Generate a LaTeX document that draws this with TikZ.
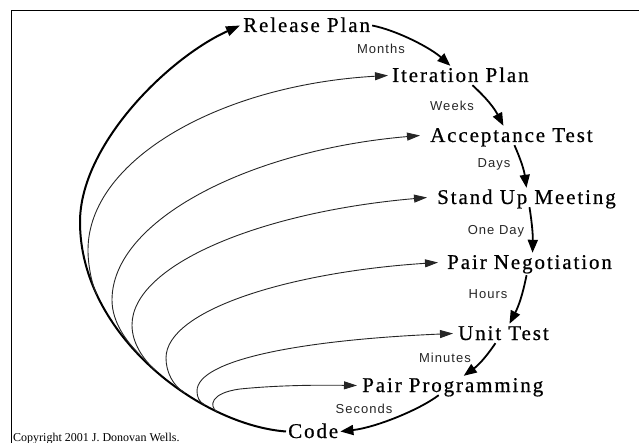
\documentclass[tikz,border=0pt]{standalone}
\usepackage{fontspec}
\setmainfont{Liberation Serif}
\newfontfamily\bigserif[LetterSpace=9,FakeBold=0.6]{Liberation Serif}
\newfontfamily\smallsans[LetterSpace=8]{Liberation Sans}
\usetikzlibrary{arrows.meta}
\tikzset{
  stage/.style={font=\bigserif\fontsize{21}{25}\selectfont, inner sep=2pt, text height=14pt, text depth=1pt, anchor=base west},
  span/.style={font=\smallsans\fontsize{13}{15}\selectfont, text=black!85, inner sep=0pt},
  thickarrow/.style={line width=1.8pt, -{Triangle[length=13pt,width=10pt]}},
  thinarrow/.style={line width=0.9pt, draw=black!85, -{Triangle[length=13pt,width=8pt]}},
  spiral/.style={line width=2pt, -{Triangle[length=14pt,width=10pt]}},
  frameline/.style={line width=1.2pt}
}
\begin{document}
\begin{tikzpicture}[x=1pt, y=-1pt]
\useasboundingbox (0,0) rectangle (639,443);
\draw[frameline] (11.5,443) -- (11.5,10.5) -- (639,10.5);

\node[stage] (rel) at (241,32) {Release Plan};
\node[stage] (itp) at (390,82) {Iteration Plan};
\node[stage] (acc) at (428,142) {Acceptance Test};
\node[stage] (sum) at (435,204) {Stand Up Meeting};
\node[stage] (png) at (445,269) {Pair Negotiation};
\node[stage] (ut) at (456,340) {Unit Test};
\node[stage] (ppg) at (360,392) {Pair Programming};
\node[stage] (cod) at (286,438) {Code};

\node[span] (lm) at (381,49) {Months};
\node[span] (lw) at (452,106) {Weeks};
\node[span] (ld) at (494,164) {Days};
\node[span] (lod) at (496,231) {One Day};
\node[span] (lh) at (488,294) {Hours};
\node[span] (lmi) at (445,358) {Minutes};
\node[span] (ls) at (364,409) {Seconds};

\node[font=\fontsize{12}{14}\selectfont, anchor=base west, inner sep=0pt] (copy) at (13,441) {Copyright 2001 J. Donovan Wells.};

% big spiral from Code back to Release Plan
\draw[spiral] (cod.west) .. controls (200,425) and (80,335) .. (80,222)
   .. controls (80,145) and (168,58) .. ([xshift=-1pt]rel.west);

\coordinate (m1) at (97,295);
\coordinate (m2) at (140,355);
\coordinate (m3) at (155,370);
\coordinate (m4) at (185,393);
\coordinate (m5) at (205,405);
\coordinate (m6) at (217,412);

\draw[thinarrow] (m1) .. controls (92,285) and (88,266) .. (88,250) .. controls (88,160) and (220,85) .. ([xshift=-2pt]itp.west);
\draw[thinarrow] (m2) .. controls (126,341) and (112,322) .. (112,300) .. controls (112,220) and (250,150) .. ([xshift=-8pt]acc.west);
\draw[thinarrow] (m3) .. controls (143,359) and (132,343) .. (132,325) .. controls (132,265) and (260,212) .. ([xshift=-8pt]sum.west);
\draw[thinarrow] (m4) .. controls (173,386) and (166,372) .. (166,358) .. controls (166,310) and (290,272) .. ([xshift=-7pt]png.west);
\draw[thinarrow] (m5) .. controls (199,402) and (197,397) .. (197,391) .. controls (197,360) and (300,340) .. ([xshift=-3pt]ut.west);
\draw[thinarrow] (m6) .. controls (209,406) and (210,393) .. (240,389) .. controls (280,385) and (320,385) .. ([xshift=-3pt]ppg.west);

% main sequence arrows
\draw[thickarrow] (rel.east) .. controls +(25,5) and +(-20,-18) .. ([xshift=-10pt]itp.north);
\draw[thickarrow] ([xshift=12pt]itp.south) to[bend left=10] ([xshift=-8pt]acc.north);
\draw[thickarrow] ([xshift=3pt]acc.south) to[bend left=8] (sum.north);
\draw[thickarrow] ([xshift=3pt]sum.south) to[bend left=5] ([xshift=3pt]png.north);
\draw[thickarrow] ([xshift=-3pt,yshift=-3pt]png.south) to[bend left=8] ([xshift=6pt]ut.north);
\draw[thickarrow] ([xshift=-8pt]ut.south) to[bend left=10] ([xshift=11pt]ppg.north);
\draw[thickarrow] ([xshift=-14pt]ppg.south) .. controls +(-20,15) and +(35,-4) .. (cod.east);
\end{tikzpicture}
\end{document}
